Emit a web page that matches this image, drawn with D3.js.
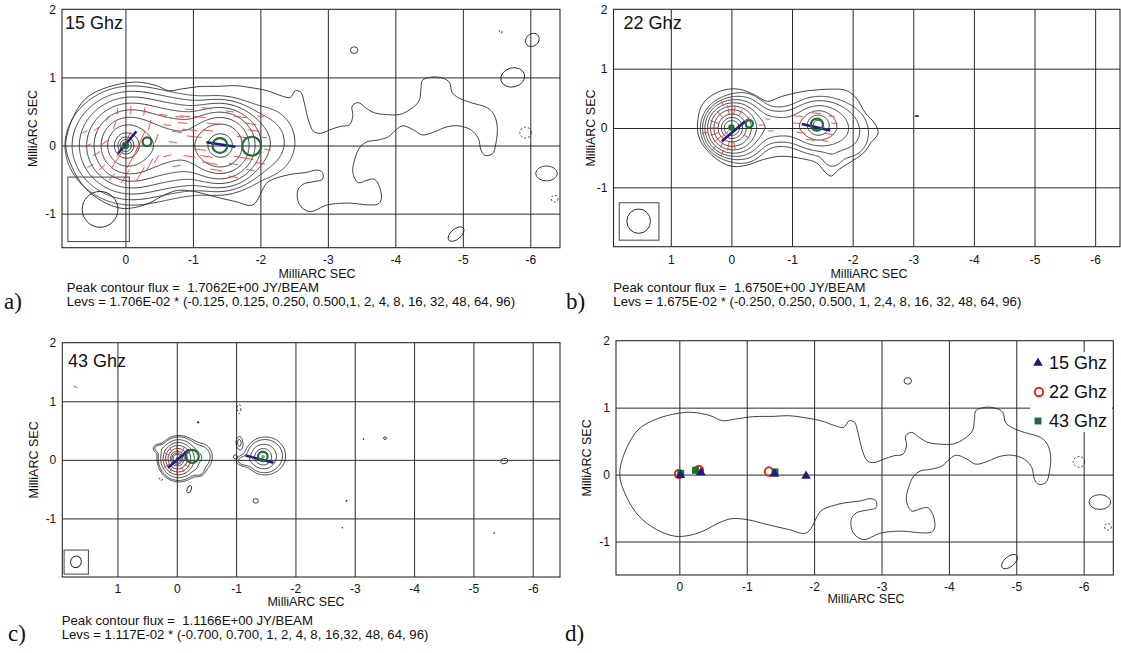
<!DOCTYPE html>
<html>
<head>
<meta charset="utf-8">
<script src="https://cdn.jsdelivr.net/npm/d3@7/dist/d3.min.js"></script>
<style>
  body { margin: 0; background: #fff; }
  svg text { font-family: "Liberation Sans", Arial, Helvetica, sans-serif; fill: #111; }
  .lab { font-family: "Liberation Serif", "Times New Roman", serif; }
</style>
</head>
<body>
<svg id="fig" width="1121" height="653"></svg>
<script>
// ---------- ticks
var xTicksAD = [0, -1, -2, -3, -4, -5, -6];
var xTicksBC = [1, 0, -1, -2, -3, -4, -5, -6];
var yTicks = [2, 1, 0, -1];
var yGrid = [1, 0, -1];

// ---------- contour levels, in units of the lowest level
var levsA = [0.25, 0.5, 1, 2, 4, 8, 16, 32, 48, 64, 96];
var levsB = [0.5, 1, 2, 4, 8, 16, 32, 48, 64, 96];
var levsC = [0.7, 1, 2, 4, 8, 16, 32, 48, 64, 96];

// ---------- brightness components [x mas, y mas, peak, sigma x, sigma y, angle]
var compA = [
  [0, 0, 45, 0.06, 0.065, 0],
  [0, 0, 30, 0.14, 0.15, 0],
  [-0.05, 0, 15, 0.25, 0.26, 0],
  [-0.1, 0, 5, 0.4, 0.34, 0],
  [-0.75, 0, 9, 0.45, 0.27, 0],
  [-1.42, 0, 40, 0.22, 0.22, 0],
  [-2.05, 0.05, 0.8, 0.3, 0.32, 0]
];
var compB = [
  [0, 0, 12, 0.05, 0.05, 0],
  [0, 0, 80, 0.16, 0.165, 0],
  [-0.2, 0, 6, 0.2, 0.26, 0],
  [-0.7, 0.02, 2.8, 0.32, 0.17, 0],
  [-1.43, 0.05, 14, 0.1, 0.1, 0],
  [-1.45, 0.04, 6, 0.26, 0.22, 0],
  [-1.95, -0.1, 1.0, 0.25, 0.3, 0],
  [-1.65, -0.55, 0.5, 0.12, 0.12, 0]
];
var compC = [
  [0, 0.02, 62, 0.06, 0.065, 0],
  [-0.02, 0.02, 32, 0.11, 0.12, 0],
  [-0.05, 0.02, 5, 0.18, 0.19, 0],
  [-0.45, 0.05, 1.4, 0.12, 0.16, 0],
  [-0.38, -0.2, 0.8, 0.06, 0.06, 0],
  [0.32, 0.2, 1.0, 0.07, 0.05, 0],
  [-1.45, 0.05, 6, 0.1, 0.1, 0],
  [-1.5, 0.07, 2.2, 0.22, 0.21, 0],
  [-1.12, -0.02, 1.1, 0.1, 0.06, 0],
  [-1.05, 0.3, 1.0, 0.05, 0.1, 0]
];

var outerA = [
  [0.885, 0], [0.79, 0.38], [0.60, 0.68], [0.34, 0.83], [0.02, 0.915], [-0.19, 0.93], [-0.46, 0.88],
  [-0.64, 0.805], [-0.83, 0.83], [-1.09, 0.865], [-1.41, 0.87], [-1.62, 0.88], [-1.83, 0.855],
  [-2.10, 0.805], [-2.31, 0.73], [-2.44, 0.705], [-2.52, 0.805], [-2.60, 0.78], [-2.65, 0.63],
  [-2.71, 0.38], [-2.79, 0.205], [-2.89, 0.18], [-3.03, 0.23], [-3.18, 0.28], [-3.32, 0.305],
  [-3.37, 0.43], [-3.36, 0.58], [-3.45, 0.63], [-3.56, 0.555], [-3.69, 0.48], [-3.87, 0.455],
  [-4.06, 0.455], [-4.22, 0.53], [-4.35, 0.655], [-4.38, 0.83], [-4.40, 0.955], [-4.54, 1.005],
  [-4.70, 0.99], [-4.80, 0.93], [-4.84, 0.78], [-4.93, 0.705], [-5.12, 0.63], [-5.36, 0.555],
  [-5.46, 0.455], [-5.51, 0.28], [-5.49, 0.03], [-5.44, -0.12], [-5.33, -0.145], [-5.27, -0.07],
  [-5.23, 0.105], [-5.12, 0.23], [-4.93, 0.29], [-4.75, 0.27], [-4.59, 0.205], [-4.40, 0.155],
  [-4.27, 0.23], [-4.11, 0.29], [-4.01, 0.23], [-3.90, 0.13], [-3.74, 0.08], [-3.58, 0.055],
  [-3.48, -0.02], [-3.40, -0.195], [-3.37, -0.395], [-3.45, -0.545], [-3.58, -0.51], [-3.69, -0.495],
  [-3.77, -0.62], [-3.79, -0.795], [-3.74, -0.86], [-3.58, -0.87], [-3.32, -0.845], [-3.0, -0.87],
  [-2.73, -0.97], [-2.58, -0.87], [-2.55, -0.67], [-2.63, -0.57], [-2.79, -0.53], [-2.92, -0.495],
  [-2.92, -0.395], [-2.84, -0.36], [-2.68, -0.395], [-2.47, -0.42], [-2.26, -0.47], [-2.10, -0.545],
  [-1.89, -0.87], [-1.62, -0.82], [-1.30, -0.745], [-0.99, -0.67], [-0.77, -0.66], [-0.59, -0.72],
  [-0.35, -0.845], [-0.14, -0.91], [0.07, -0.92], [0.34, -0.82], [0.60, -0.62], [0.79, -0.32]
];
var outerB = [
  [0.56, 0], [0.50, 0.36], [0.35, 0.53], [0.12, 0.64], [-0.12, 0.655], [-0.38, 0.56], [-0.59, 0.45],
  [-0.825, 0.53], [-1.18, 0.615], [-1.65, 0.655], [-1.89, 0.633], [-2.06, 0.504], [-2.21, 0.25],
  [-2.36, 0.084], [-2.42, -0.084], [-2.30, -0.25], [-2.18, -0.42], [-1.94, -0.59], [-1.77, -0.70],
  [-1.65, -0.81], [-1.56, -0.76], [-1.41, -0.59], [-1.18, -0.52], [-0.825, -0.476], [-0.53, -0.53],
  [-0.24, -0.63], [0, -0.645], [0.236, -0.53], [0.41, -0.364], [0.52, -0.196]
];

// ---------- small isolated contours [x, y, rx, ry, rotation, 0 solid / 1 dashed / 2 filled]
var islandsA = [
  [-3.39, 1.40, 0.055, 0.05, 0, 0],
  [-5.56, 1.67, 0.02, 0.025, 0, 1],
  [-6.03, 1.55, 0.11, 0.09, -40, 0],
  [-5.74, 1.0, 0.18, 0.14, -15, 0],
  [-5.93, 0.19, 0.085, 0.08, 0, 1],
  [-6.24, -0.41, 0.16, 0.11, 0, 0],
  [-6.36, -0.78, 0.05, 0.05, 0, 1],
  [-4.9, -1.30, 0.14, 0.075, -40, 0]
];
var islandsB = [[-3.06, 0.2, 0.035, 0.008, 0, 2]];
var islandsC = [
  [-0.36, 0.64, 0.015, 0.012, 0, 2],
  [-1.05, 0.87, 0.03, 0.08, 0, 1],
  [0.27, -0.33, 0.03, 0.02, 0, 1],
  [-0.21, -0.50, 0.035, 0.065, 20, 0],
  [-1.33, -0.70, 0.045, 0.04, 0, 0],
  [-2.86, -0.70, 0.015, 0.006, -50, 2],
  [-3.15, 0.355, 0.008, 0.008, 0, 2],
  [-3.51, 0.37, 0.025, 0.022, 0, 0],
  [-2.79, -1.16, 0.006, 0.006, 0, 2],
  [-5.35, -1.25, 0.008, 0.006, 0, 2],
  [-5.52, -0.02, 0.06, 0.045, -20, 0],
  [-0.99, 0.05, 0.035, 0.035, 0, 0]
];

// ---------- restoring beams: box [x left, x right, y top, y bottom], ellipse [x, y, rx, ry, rot]
var beamBoxA = [0.853, -0.058, -0.463, -1.41], beamA = [0.376, -0.937, 0.265, 0.263, 0];
var beamBoxB = [1.85, 1.196, -1.26, -1.89], beamB = [1.53, -1.57, 0.195, 0.205, 0];
var beamBoxC = [1.90, 1.49, -1.54, -1.95], beamC = [1.70, -1.74, 0.09, 0.1, 20];

// ---------- polarisation vectors [x, y, screen angle deg, length mas]
var vecA = [
  [0.02, 0.02, 60, 0.42], [-0.12, -0.15, 62, 0.42], [0.12, -0.2, 56, 0.34], [-0.22, 0.06, 66, 0.34],
  [0.0, -0.45, 58, 0.24], [-0.22, -0.42, 60, 0.24], [0.2, -0.46, 50, 0.14], [-0.36, -0.28, 62, 0.2],
  [0.3, 0.05, 35, 0.14], [0.43, -0.12, 32, 0.12], [0.35, -0.32, 40, 0.12], [0.56, 0.0, 28, 0.1],
  [0.52, -0.3, 30, 0.1], [0.6, 0.2, 25, 0.08], [0.42, 0.25, 35, 0.1], [0.16, 0.3, 70, 0.12],
  [0.12, 0.5, 85, 0.1], [-0.08, 0.52, 88, 0.12], [-0.28, 0.5, 80, 0.12], [-0.36, 0.3, 75, 0.16],
  [-0.46, 0.1, 70, 0.14], [-0.46, -0.2, 60, 0.14], [0.26, 0.4, 60, 0.08],
  [-0.56, 0.45, -10, 0.12], [-0.62, 0.3, -5, 0.12], [-0.8, 0.42, -5, 0.12], [-0.76, 0.2, -8, 0.14],
  [-0.7, 0.05, -5, 0.12], [-0.62, -0.15, 15, 0.12], [-0.76, -0.3, 10, 0.12],
  [-0.95, 0.53, -5, 0.14], [-1.2, 0.55, -5, 0.14], [-1.55, 0.5, -8, 0.12],
  [-0.88, 0.43, -5, 0.15], [-1.1, 0.42, -6, 0.18], [-1.7, 0.42, -8, 0.18], [-2.0, 0.43, -8, 0.1],
  [-0.85, 0.33, -4, 0.14], [-1.3, 0.32, -6, 0.2], [-1.85, 0.32, -8, 0.18],
  [-0.95, 0.23, -5, 0.22], [-1.22, 0.22, -6, 0.16], [-1.9, 0.22, -8, 0.18],
  [-1.02, 0.13, -6, 0.22], [-1.75, 0.12, -8, 0.2], [-2.05, 0.12, -8, 0.1],
  [-1.1, -0.06, -6, 0.2], [-2.1, -0.06, -8, 0.1],
  [-0.95, -0.16, -8, 0.18], [-1.2, -0.16, -8, 0.18], [-1.75, -0.18, -10, 0.3],
  [-1.25, -0.26, -10, 0.22], [-1.6, -0.27, -10, 0.14], [-2.0, -0.26, -10, 0.14],
  [-1.35, -0.36, -10, 0.18], [-1.85, -0.36, -10, 0.12], [-1.6, -0.46, -10, 0.14]
];
var vecB = [
  [0.3, 0.0, 0, 0.16], [0.28, 0.10, -20, 0.14], [0.28, -0.10, 20, 0.14], [0.23, -0.19, 40, 0.16],
  [0.15, -0.26, 60, 0.18], [0.05, -0.30, 80, 0.16], [-0.05, -0.3, 100, 0.14], [0.05, 0.30, 100, 0.16],
  [-0.05, 0.3, 80, 0.16], [0.19, 0.23, 130, 0.14], [-0.15, 0.26, 60, 0.12], [-0.26, 0.15, 30, 0.1],
  [-0.26, -0.15, -30, 0.1], [0.29, -0.34, 50, 0.12], [0.44, -0.08, 10, 0.08], [0.15, -0.42, 70, 0.1],
  [0.15, 0.42, 110, 0.1], [0, 0.45, 90, 0.1], [0.1, -0.1, 45, 0.15],
  [-0.5, 0.05, 0, 0.1], [-0.65, -0.05, 0, 0.08], [-0.6, 0.15, -5, 0.08],
  [-1.1, 0.2, -5, 0.15], [-1.4, 0.25, -3, 0.15], [-1.65, 0.2, -5, 0.1], [-1.08, 0.08, -5, 0.12],
  [-1.7, 0.08, -5, 0.1], [-1.15, -0.08, -8, 0.15], [-1.6, -0.1, -8, 0.15], [-1.3, -0.2, -8, 0.15],
  [-1.55, -0.22, -8, 0.1]
];
var vecC = [
  [0, 0.2, 90, 0.12], [-0.1, 0.17, 60, 0.12], [0.1, 0.17, 120, 0.1], [0.17, 0.1, 150, 0.1],
  [0.2, 0, 0, 0.1], [0.17, -0.1, 30, 0.12], [0.1, -0.17, 60, 0.12], [0, -0.2, 90, 0.12],
  [-0.1, -0.17, 120, 0.1], [-0.17, -0.1, 150, 0.1], [-0.2, 0, 0, 0.08], [-0.17, 0.1, 30, 0.1],
  [0.05, -0.05, 50, 0.14],
  [-1.45, 0.12, 0, 0.08], [-1.5, 0.0, -5, 0.1], [1.71, 1.245, -20, 0.07]
];

// ---------- jet axis segments [x1, y1, x2, y2] and model components [x, y, r, filled]
var blueA = [[0.11, -0.117, -0.163, 0.209], [-1.20, 0.048, -1.63, -0.019]];
var blueB = [[0.16, -0.225, -0.224, 0.11], [-1.16, 0.067, -1.63, -0.04]];
var blueC = [[0.15, -0.135, -0.21, 0.175], [-1.16, 0.073, -1.63, -0.05]];
var greenA = [[0, 0, 0.04, 0], [-0.32, 0.054, 0.065, 0], [-1.40, 0, 0.11, 0], [-1.87, -0.01, 0.14, 0]];
var greenB = [[0, 0.01, 0.035, 1], [-0.295, 0.073, 0.06, 0], [-1.41, 0.056, 0.1, 0]];
var greenC = [[-0.26, 0.06, 0.11, 0], [-1.45, 0.06, 0.08, 0]];

// ---------- panel d component positions
var pos15 = [[-0.016, 0], [-0.32, 0.04], [-1.41, 0.02], [-1.88, -0.01]];
var pos22 = [[0.005, 0.01], [-0.29, 0.07], [-1.33, 0.045]];
var pos43 = [[-0.02, 0.015], [-0.24, 0.065], [-1.42, 0.04]];
var legendNames = ['15 Ghz', '22 Ghz', '43 Ghz'];

var svg = d3.select('#fig');

function field(comps, px, py) {
  var v = 0;
  for (var k = 0; k < comps.length; k++) {
    var c = comps[k], a = c[5] * Math.PI / 180;
    var dx = px - c[0], dy = py - c[1];
    var u = dx * Math.cos(a) + dy * Math.sin(a), w = -dx * Math.sin(a) + dy * Math.cos(a);
    v += c[2] * Math.exp(-0.5 * (u * u / (c[3] * c[3]) + w * w / (c[4] * c[4])));
  }
  return v;
}

function drawPanel(p) {
  var x = d3.scaleLinear().domain(p.xd).range(p.xr);
  var y = d3.scaleLinear().domain(p.yd).range(p.yr);
  var w = p.xr[1] - p.xr[0], h = p.yr[1] - p.yr[0];
  var kx = Math.abs(x(1) - x(0)), ky = Math.abs(y(1) - y(0));
  var g = svg.append('g');
  g.append('clipPath').attr('id', 'clip-' + p.name).append('rect')
    .attr('x', p.xr[0]).attr('y', p.yr[0]).attr('width', w).attr('height', h);
  var body = g.append('g').attr('clip-path', 'url(#clip-' + p.name + ')');

  // grid
  body.append('g').attr('transform', 'translate(0,' + p.yr[1] + ')')
    .call(d3.axisBottom(x).tickValues(p.xticks).tickSize(-h).tickFormat(''))
    .call(function(s) { s.select('.domain').remove(); })
    .selectAll('line').attr('stroke', '#2a2a2a');
  body.append('g').attr('transform', 'translate(' + p.xr[0] + ',0)')
    .call(d3.axisLeft(y).tickValues(yGrid).tickSize(-w).tickFormat(''))
    .call(function(s) { s.select('.domain').remove(); })
    .selectAll('line').attr('stroke', '#2a2a2a');

  // contours from the component model
  if (p.comps) {
    var step = 0.015;
    var nx = Math.round((p.xd[0] - p.xd[1]) / step) + 1;
    var ny = Math.round((p.yd[0] - p.yd[1]) / step) + 1;
    var vals = new Float64Array(nx * ny);
    for (var j = 0; j < ny; j++)
      for (var i = 0; i < nx; i++)
        vals[j * nx + i] = field(p.comps, p.xd[0] - i * step, p.yd[0] - j * step);
    var cs = d3.contours().size([nx, ny]).thresholds(p.levels)(vals);
    var proj = d3.geoTransform({
      point: function(gx, gy) {
        this.stream.point(x(p.xd[0] - (gx - 0.5) * step), y(p.yd[0] - (gy - 0.5) * step));
      }
    });
    body.append('g').selectAll('path').data(cs).join('path')
      .attr('d', d3.geoPath(proj))
      .attr('fill', 'none').attr('stroke', '#2b2b2b').attr('stroke-width', 0.9);
  }

  if (p.outer) {
    body.append('path').datum(p.outer)
      .attr('d', d3.line().curve(d3.curveCatmullRomClosed.alpha(0.5))
        .x(function(d) { return x(d[0]); }).y(function(d) { return y(d[1]); }))
      .attr('fill', 'none').attr('stroke', '#2b2b2b').attr('stroke-width', 0.9);
  }

  if (p.islands) {
    body.append('g').selectAll('ellipse').data(p.islands).join('ellipse')
      .attr('cx', function(d) { return x(d[0]); })
      .attr('cy', function(d) { return y(d[1]); })
      .attr('rx', function(d) { return d[2] * kx; })
      .attr('ry', function(d) { return d[3] * ky; })
      .attr('transform', function(d) { return 'rotate(' + d[4] + ',' + x(d[0]) + ',' + y(d[1]) + ')'; })
      .attr('fill', function(d) { return d[5] === 2 ? '#2b2b2b' : 'none'; })
      .attr('stroke', '#2b2b2b').attr('stroke-width', 0.9)
      .attr('stroke-dasharray', function(d) { return d[5] === 1 ? '2,2' : null; });
  }

  if (p.beamBox) {
    var b = p.beamBox;
    body.append('rect').attr('x', x(b[0])).attr('y', y(b[2]))
      .attr('width', x(b[1]) - x(b[0])).attr('height', y(b[3]) - y(b[2]))
      .attr('fill', 'none').attr('stroke', '#444').attr('stroke-width', 1);
    var e = p.beam;
    body.append('ellipse').attr('cx', x(e[0])).attr('cy', y(e[1]))
      .attr('rx', e[2] * kx).attr('ry', e[3] * ky)
      .attr('transform', 'rotate(' + e[4] + ',' + x(e[0]) + ',' + y(e[1]) + ')')
      .attr('fill', 'none').attr('stroke', '#2b2b2b').attr('stroke-width', 1);
  }

  if (p.vec) {
    body.append('g').selectAll('line').data(p.vec).join('line')
      .attr('x1', function(d) { return x(d[0]) - Math.cos(d[2] * Math.PI / 180) * d[3] * kx / 2; })
      .attr('y1', function(d) { return y(d[1]) + Math.sin(d[2] * Math.PI / 180) * d[3] * kx / 2; })
      .attr('x2', function(d) { return x(d[0]) + Math.cos(d[2] * Math.PI / 180) * d[3] * kx / 2; })
      .attr('y2', function(d) { return y(d[1]) - Math.sin(d[2] * Math.PI / 180) * d[3] * kx / 2; })
      .attr('stroke', '#ee3b33').attr('stroke-width', 0.9);
  }

  if (p.blue) {
    body.append('g').selectAll('line').data(p.blue).join('line')
      .attr('x1', function(d) { return x(d[0]); }).attr('y1', function(d) { return y(d[1]); })
      .attr('x2', function(d) { return x(d[2]); }).attr('y2', function(d) { return y(d[3]); })
      .attr('stroke', '#231d86').attr('stroke-width', 2.6);
  }

  if (p.green) {
    body.append('g').selectAll('circle').data(p.green).join('circle')
      .attr('cx', function(d) { return x(d[0]); }).attr('cy', function(d) { return y(d[1]); })
      .attr('r', function(d) { return d[2] * kx; })
      .attr('fill', function(d) { return d[3] ? '#1f6f36' : 'none'; })
      .attr('stroke', '#1f6f36').attr('stroke-width', 2.2);
  }

  if (p.markers) {
    var mk = body.append('g');
    mk.selectAll('circle').data(pos22).join('circle')
      .attr('cx', function(d) { return x(d[0]); }).attr('cy', function(d) { return y(d[1]); })
      .attr('r', 4.2).attr('fill', 'none').attr('stroke', '#e3261f').attr('stroke-width', 2);
    mk.selectAll('path.sq').data(pos43).join('path').attr('class', 'sq')
      .attr('transform', function(d) { return 'translate(' + x(d[0]) + ',' + y(d[1]) + ')'; })
      .attr('d', d3.symbol(d3.symbolSquare, 48)).attr('fill', '#1f6d35');
    mk.selectAll('path.tr').data(pos15).join('path').attr('class', 'tr')
      .attr('transform', function(d) { return 'translate(' + x(d[0]) + ',' + y(d[1] - 0.01) + ')'; })
      .attr('d', d3.symbol(d3.symbolTriangle, 40)).attr('fill', '#201c7e');

    var lg = g.append('g');
    lg.append('rect').attr('x', 1030).attr('y', 352).attr('width', 82).attr('height', 80).attr('fill', '#fff');
    var ly = [363, 392, 421];
    lg.append('path').attr('transform', 'translate(1038,' + ly[0] + ')')
      .attr('d', d3.symbol(d3.symbolTriangle, 40)).attr('fill', '#201c7e');
    lg.append('circle').attr('cx', 1039).attr('cy', ly[1]).attr('r', 4.2)
      .attr('fill', 'none').attr('stroke', '#e3261f').attr('stroke-width', 2);
    lg.append('path').attr('transform', 'translate(1038,' + ly[2] + ')')
      .attr('d', d3.symbol(d3.symbolSquare, 48)).attr('fill', '#1f6d35');
    lg.selectAll('text').data(legendNames).join('text')
      .attr('x', 1049).attr('y', function(d, i) { return ly[i]; }).attr('dy', '0.36em')
      .attr('font-size', 18).text(function(d) { return d; });
  }

  // frame
  g.append('rect').attr('x', p.xr[0]).attr('y', p.yr[0]).attr('width', w).attr('height', h)
    .attr('fill', 'none').attr('stroke', '#2a2a2a').attr('stroke-width', 1.1);

  // tick labels
  g.append('g').attr('transform', 'translate(0,' + p.yr[1] + ')')
    .call(d3.axisBottom(x).tickValues(p.xticks).tickSize(0).tickPadding(p.tpad)
      .tickFormat(function(d) { return String(d); }))
    .call(function(s) { s.select('.domain').remove(); })
    .attr('font-family', null).attr('font-size', 12);
  g.append('g').attr('transform', 'translate(' + p.xr[0] + ',0)')
    .call(d3.axisLeft(y).tickValues(yTicks).tickSize(0).tickPadding(6)
      .tickFormat(function(d) { return String(d); }))
    .call(function(s) { s.select('.domain').remove(); })
    .attr('font-family', null).attr('font-size', 12);

  g.append('text').attr('x', p.xtitle[0]).attr('y', p.xtitle[1]).attr('text-anchor', 'middle')
    .attr('font-size', 12.5).text('MilliARC SEC');
  g.append('text').attr('transform', 'translate(' + (p.xr[0] - p.yoff) + ',' + (p.yr[0] + h / 2) + ') rotate(-90)')
    .attr('text-anchor', 'middle').attr('dy', '0.35em').attr('font-size', 12.5).text('MilliARC SEC');

  if (p.freq) g.append('text').attr('x', p.freq[0]).attr('y', p.freq[1]).attr('font-size', 18).text(p.freq[2]);
  if (p.notes) {
    g.selectAll('text.note').data(p.notes).join('text').attr('class', 'note')
      .attr('x', p.notesX).attr('y', function(d, i) { return p.notesY[i]; })
      .attr('font-size', 13.2).style('white-space', 'pre').text(function(d) { return d; });
  }
  g.append('text').attr('class', 'lab').attr('x', p.letter[0]).attr('y', p.letter[1])
    .attr('font-size', 23).text(p.letter[2]);
}

drawPanel({
  name: 'a', xd: [0.94, -6.44], yd: [2, -1.5], xr: [62, 560], yr: [9.3, 247.7],
  xticks: xTicksAD, tpad: 8, comps: compA, levels: levsA, outer: outerA, islands: islandsA,
  beamBox: beamBoxA, beam: beamA, vec: vecA, blue: blueA, green: greenA,
  xtitle: [317, 277.5], yoff: 29, freq: [65, 29, '15 Ghz'],
  notes: ['Peak contour flux =  1.7062E+00 JY/BEAM',
          'Levs = 1.706E-02 * (-0.125, 0.125, 0.250, 0.500,1, 2, 4, 8, 16, 32, 48, 64, 96)'],
  notesX: 66.7, notesY: [291.5, 306], letter: [4, 309, 'a)']
});
drawPanel({
  name: 'b', xd: [1.945, -6.41], yd: [2, -2], xr: [613.5, 1120], yr: [9.3, 246.7],
  xticks: xTicksBC, tpad: 9, comps: compB, levels: levsB, outer: outerB, islands: islandsB,
  beamBox: beamBoxB, beam: beamB, vec: vecB, blue: blueB, green: greenB,
  xtitle: [869, 277.5], yoff: 23, freq: [623.6, 29, '22 Ghz'],
  notes: ['Peak contour flux =  1.6750E+00 JY/BEAM',
          'Levs = 1.675E-02 * (-0.250, 0.250, 0.500, 1, 2,4, 8, 16, 32, 48, 64, 96)'],
  notesX: 613.3, notesY: [291.5, 306], letter: [566, 309, 'b)']
});
drawPanel({
  name: 'c', xd: [1.93, -6.46], yd: [2, -2], xr: [62.3, 560], yr: [342.7, 577],
  xticks: xTicksBC, tpad: 7, comps: compC, levels: levsC, islands: islandsC,
  beamBox: beamBoxC, beam: beamC, vec: vecC, blue: blueC, green: greenC,
  xtitle: [306, 605.5], yoff: 29, freq: [67.9, 366.7, '43 Ghz'],
  notes: ['Peak contour flux =  1.1166E+00 JY/BEAM',
          'Levs = 1.117E-02 * (-0.700, 0.700, 1, 2, 4, 8, 16,32, 48, 64, 96)'],
  notesX: 61.7, notesY: [625, 639], letter: [8, 641, 'c)']
});
drawPanel({
  name: 'd', xd: [0.94, -6.44], yd: [2, -1.5], xr: [616, 1113.3], yr: [340.7, 575],
  xticks: xTicksAD, tpad: 7, outer: outerA, islands: islandsA, markers: true,
  xtitle: [866, 603], yoff: 29, letter: [565, 641, 'd)']
});
</script>
</body>
</html>
